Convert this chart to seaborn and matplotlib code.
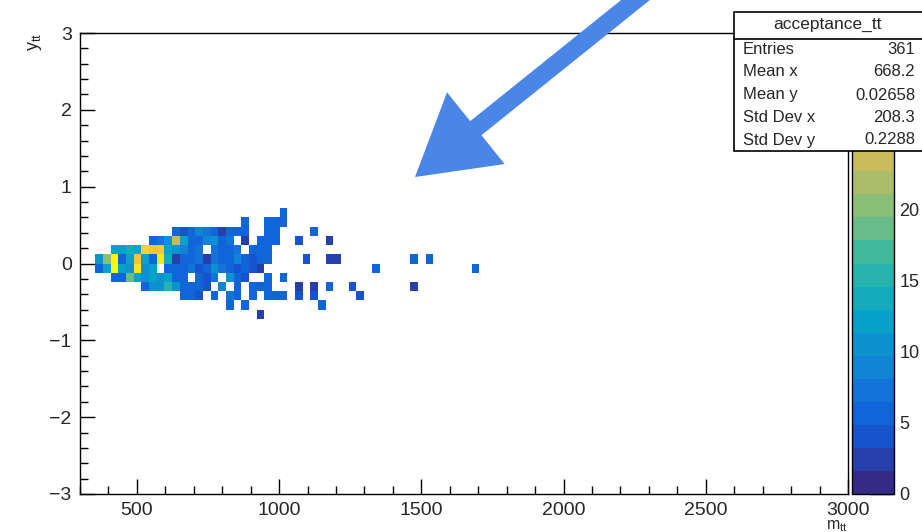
import numpy as np
import pandas as pd
import matplotlib
matplotlib.use("Agg")
import matplotlib.pyplot as plt
import seaborn as sns
from matplotlib.colors import LinearSegmentedColormap, ListedColormap
from matplotlib.patches import Rectangle, FancyArrow
from matplotlib.lines import Line2D
from matplotlib.transforms import IdentityTransform
from matplotlib.ticker import MultipleLocator

# ---------------- data ----------------
# centres of the m_tt bins 2..33 (bin width 27, axis 300-3000)
m_centers = [367.5, 394.5, 421.5, 448.5, 475.5, 502.5, 529.5, 556.5, 583.5, 610.5,
             637.5, 664.5, 691.5, 718.5, 745.5, 772.5, 799.5, 826.5, 853.5, 880.5,
             907.5, 934.5, 961.5, 988.5, 1015.5, 1042.5, 1069.5, 1096.5, 1123.5, 1150.5,
             1177.5, 1204.5]
# centres of the y_tt rows (bin width 0.12)
y_rows = [0.66, 0.54, 0.42, 0.30, 0.18, 0.06, -0.06, -0.18, -0.30, -0.42, -0.54, -0.66]

row_p066 = [0]*24 + [5] + [0]*7
row_p054 = [0]*19 + [5, 0, 0, 5, 5, 5] + [0]*7
row_p042 = [0]*10 + [5, 4, 6, 9, 8, 6, 3, 6, 5, 5, 0, 0, 5, 5, 0, 0, 0, 0, 5, 0, 0, 0]
row_p030 = [0]*7 + [5, 7, 10, 24, 12, 6, 5, 9, 10, 6, 8, 0, 3, 0, 5, 6, 5, 0, 0, 4, 0, 0, 0, 2, 0]
row_p018 = [0, 0, 12, 12, 14, 12, 28, 26, 27, 12, 11, 9, 6, 7, 0, 8, 6, 5, 7, 0, 5, 6, 5,
            0, 0, 0, 0, 0, 0, 0, 0, 0]
row_p006 = [10, 20, 31, 6, 12, 27, 12, 6, 30, 14, 2, 6, 5, 7, 2, 7, 5, 6, 9, 5, 4, 6, 5,
            0, 0, 0, 0, 4, 0, 0, 2, 2]
row_m006 = [6, 12, 32, 12, 10, 30, 11, 12, 0, 6, 5, 6, 7, 4, 5, 10, 7, 5, 4, 6, 4, 3,
            0, 0, 0, 0, 0, 0, 0, 0, 0, 0]
row_m018 = [0, 0, 5, 5, 18, 12, 11, 12, 11, 12, 6, 6, 0, 6, 4, 8, 0, 10, 6, 4, 0, 0, 5,
            0, 5, 0, 0, 0, 0, 0, 0, 0]
row_m030 = [0]*6 + [5, 10, 11, 16, 11, 6, 5, 6, 4, 0, 9, 0, 6, 0, 5, 6, 5, 0, 0, 0, 3, 0, 3, 0, 5, 0]
row_m042 = [0]*11 + [5, 5, 4, 0, 5, 0, 8, 5, 0, 5, 0, 5, 5, 5, 0, 4, 0, 4, 0, 0, 0]
row_m054 = [0]*17 + [5, 0, 5] + [0]*9 + [5, 0, 0]
row_m066 = [0]*21 + [2] + [0]*10
weight_rows = [row_p066, row_p054, row_p042, row_p030, row_p018, row_p006,
               row_m006, row_m018, row_m030, row_m042, row_m054, row_m066]

# isolated cells further right
out_m = [1258.5, 1285.5, 1339.5, 1474.5, 1474.5, 1528.5, 1690.5]
out_y = [-0.30, -0.42, -0.06, 0.06, -0.30, 0.06, -0.06]
out_w = [4, 4, 5, 5, 2, 5, 5]

stat_labels = ["Entries", "Mean x", "Mean y", "Std Dev x", "Std Dev y"]
stat_values = ["361", "668.2", "0.02658", "208.3", "0.2288"]
cbar_ticks = [0, 5, 10, 15, 20]

# ---------------- build long table ----------------
ms, ys, ws = [], [], []
for yv, row in zip(y_rows, weight_rows):
    for mv, w in zip(m_centers, row):
        if w > 0:
            ms.append(mv); ys.append(yv); ws.append(w)
ms += out_m; ys += out_y; ws += out_w
df = pd.DataFrame({"m": ms, "y": ys, "w": ws})

# ---------------- style ----------------
sns.set_theme(style="white")
plt.rcParams["font.family"] = ["Liberation Sans", "DejaVu Sans"]
plt.rcParams["mathtext.fontset"] = "custom"
plt.rcParams["mathtext.rm"] = "Liberation Sans"
plt.rcParams["mathtext.it"] = "Liberation Sans"
plt.rcParams["axes.unicode_minus"] = True

# ROOT kBird palette, 20 contour levels
stops = [0.0, 0.125, 0.25, 0.375, 0.5, 0.625, 0.75, 0.875, 1.0]
red = [0.2082, 0.0592, 0.0780, 0.0232, 0.1802, 0.5301, 0.8186, 0.9956, 0.9764]
green = [0.1664, 0.3599, 0.5041, 0.6419, 0.7178, 0.7492, 0.7328, 0.7862, 0.9832]
blue = [0.5293, 0.8684, 0.8385, 0.7914, 0.6425, 0.4662, 0.3499, 0.1968, 0.0539]
bird = LinearSegmentedColormap.from_list("bird", list(zip(stops, zip(red, green, blue))))
cmap20 = ListedColormap([bird(i / 19) for i in range(20)])

W, H = 922, 532
fig = plt.figure(figsize=(W / 100, H / 100), dpi=100)
fig.patch.set_facecolor("white")
ax = fig.add_axes([80 / W, 38 / H, 768 / W, 461 / H])
cax = fig.add_axes([852 / W, 38 / H, 42 / W, 461 / H])

x_edges = np.linspace(300, 3000, 101)
y_edges = np.linspace(-3, 3, 51)
sns.histplot(data=df, x="m", y="y", weights="w", bins=[x_edges, y_edges],
             cmap=cmap20, vmin=0, vmax=32.4, cbar=True, cbar_ax=cax, ax=ax)

ax.set_xlim(300, 3000)
ax.set_ylim(-3, 3)
ax.set_xticks([500, 1000, 1500, 2000, 2500, 3000])
ax.xaxis.set_minor_locator(MultipleLocator(100))
ax.set_yticks([-3, -2, -1, 0, 1, 2, 3])
ax.yaxis.set_minor_locator(MultipleLocator(0.2))
ax.tick_params(which="both", direction="in", bottom=True, left=True, top=False,
               right=False, color="black", width=1)
ax.tick_params(which="major", length=11, labelsize=14, pad=6)
ax.tick_params(which="minor", length=6)
for s in ax.spines.values():
    s.set_color("black"); s.set_linewidth(1.0)
ax.set_xlabel(r"$\mathregular{m_{tt}}$", loc="right", fontsize=11.5, labelpad=-1)
ax.set_ylabel(r"$\mathregular{y_{tt}}$", loc="top", fontsize=13, labelpad=4)
ax.grid(False)

cbar = ax.collections[0].colorbar
cbar.set_ticks(cbar_ticks)
cax.tick_params(direction="in", length=18, width=1, labelsize=13, pad=4,
                right=True, left=False, color="black")
cbar.outline.set_edgecolor("black")
cbar.outline.set_linewidth(1)

# ---------------- stats box ----------------
def py(y):  # image row -> display y
    return H - y

tr = IdentityTransform()
fig.add_artist(Rectangle((734, py(151)), 192, 139, transform=tr, facecolor="white",
                         edgecolor="black", linewidth=1.2, zorder=5))
fig.add_artist(Line2D([734, 922], [py(39), py(39)], transform=tr, color="black",
                      linewidth=1.2, zorder=6))
fig.text(827 / W, py(24) / H, "acceptance_tt", ha="center", va="center",
         fontsize=12.5, zorder=7)
for lab, val, yy in zip(stat_labels, stat_values, [49, 72, 95, 118, 140]):
    fig.text(743 / W, py(yy) / H, lab, ha="left", va="center", fontsize=12, zorder=7)
    fig.text(915 / W, py(yy) / H, val, ha="right", va="center", fontsize=12, zorder=7)

# ---------------- annotation arrow ----------------
fig.add_artist(FancyArrow(648, py(-10), -233, -187, width=18, head_width=92,
                          head_length=78, length_includes_head=True, transform=tr,
                          color="#4A86E8", linewidth=0, zorder=8))

fig.savefig("out.png", dpi=100)
